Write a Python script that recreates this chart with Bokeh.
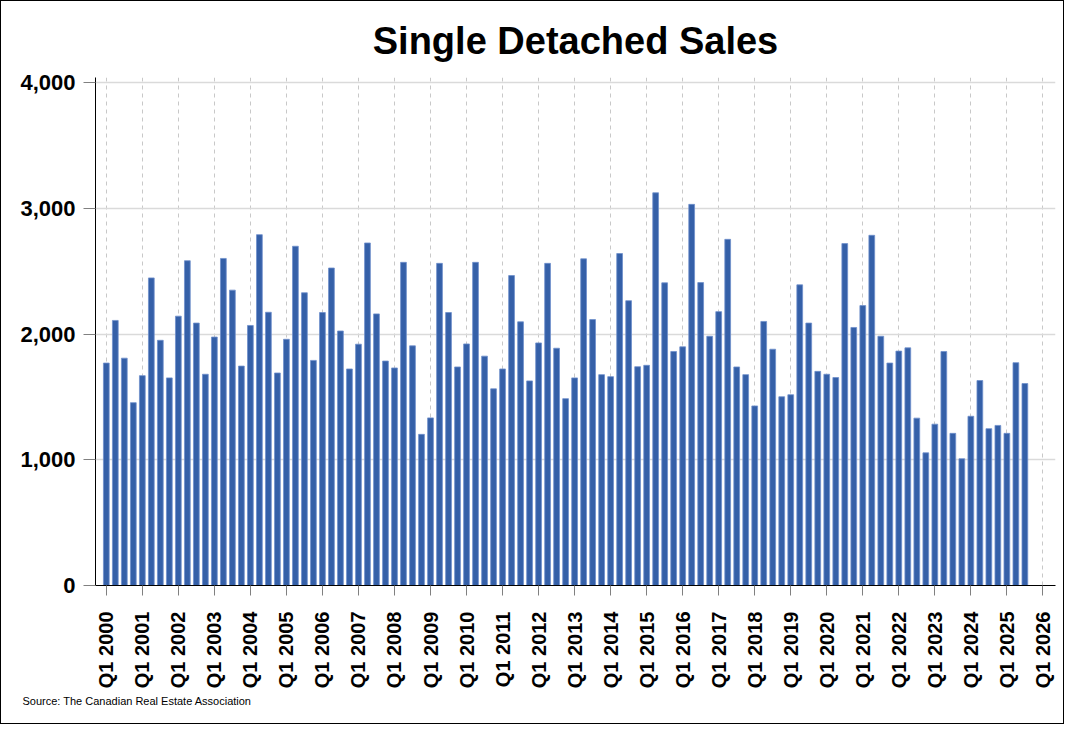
import math
from bokeh.plotting import figure
from bokeh.models import Range1d, FixedTicker, NumeralTickFormatter, Title
from bokeh.embed import file_html
from bokeh.resources import INLINE

years = list(range(2000, 2027))
tick_labels = [f"Q1 {y}" for y in years]

sales = [
    1769, 2108, 1808, 1454, 1669, 2446, 1950, 1651, 2142, 2583, 2087, 1680,
    1976, 2601, 2349, 1745, 2068, 2790, 2173, 1690, 1958, 2698, 2328, 1790,
    2171, 2525, 2024, 1722, 1919, 2724, 2160, 1785, 1730, 2570, 1906, 1202,
    1333, 2562, 2171, 1738, 1921, 2570, 1824, 1564, 1722, 2465, 2097, 1627,
    1929, 2562, 1887, 1486, 1651, 2598, 2115, 1677, 1661, 2640, 2265, 1740,
    1751, 3123, 2407, 1861, 1898, 3031, 2409, 1982, 2178, 2753, 1738, 1677,
    1428, 2100, 1879, 1501, 1517, 2391, 2087, 1703, 1680, 1654, 2719, 2052,
    2226, 2785, 1982, 1769, 1864, 1890, 1331, 1055, 1283, 1861, 1210, 1008,
    1346, 1630, 1247, 1273, 1210, 1772, 1606,
]
quarter_index = list(range(len(sales)))

FONT = "Liberation Sans"

p = figure(
    width=1064, height=724,
    output_backend="svg", toolbar_location=None,
    x_range=Range1d(-1.2, 105.4), y_range=Range1d(0, 4040),
    min_border_left=94, min_border_right=10, min_border_top=60, min_border_bottom=140,
)
p.styles = {"border": "1px solid black"}
p.background_fill_color = "white"
p.border_fill_color = "white"
p.outline_line_color = None

title = Title(text="Single Detached Sales", align="center", vertical_align="bottom",
              text_font=FONT, text_font_size="38px", text_font_style="bold",
              text_color="black", standoff=32)
p.add_layout(title, "above")

p.vbar(x=quarter_index, top=sales, width=0.64, bottom=0,
       fill_color="#3560a8", line_color="#6f8fcc", line_width=0.8)

# x axis
p.xaxis.ticker = FixedTicker(ticks=[4 * i for i in range(len(years))])
p.xaxis.major_label_overrides = {4 * i: lab for i, lab in enumerate(tick_labels)}
p.xaxis.major_label_orientation = math.pi / 2
p.xaxis.major_label_text_font = FONT
p.xaxis.major_label_text_font_size = "20px"
p.xaxis.major_label_text_font_style = "bold"
p.xaxis.major_label_text_color = "black"
p.xaxis.major_label_standoff = 16
p.xaxis.major_tick_out = 10
p.xaxis.major_tick_in = 0
p.xaxis.major_tick_line_color = "#808080"
p.xaxis.minor_tick_line_color = None
p.xaxis.axis_line_color = "black"

# y axis
p.yaxis.ticker = FixedTicker(ticks=[0, 1000, 2000, 3000, 4000])
p.yaxis.formatter = NumeralTickFormatter(format="0,0")
p.yaxis.major_label_text_font = FONT
p.yaxis.major_label_text_font_size = "22px"
p.yaxis.major_label_text_font_style = "bold"
p.yaxis.major_label_text_color = "black"
p.yaxis.major_label_standoff = 8
p.yaxis.major_tick_out = 12
p.yaxis.major_tick_in = 0
p.yaxis.major_tick_line_color = "#808080"
p.yaxis.minor_tick_line_color = None
p.yaxis.axis_line_color = "black"

# grids
p.xgrid.grid_line_color = "#c8c8c8"
p.xgrid.grid_line_dash = "4 4"
p.xgrid.grid_line_width = 1
p.ygrid.grid_line_color = "#dadada"
p.ygrid.grid_line_width = 1.5

src = Title(text="Source: The Canadian Real Estate Association", align="left",
            offset=-73, text_font=FONT, text_font_size="11px",
            text_font_style="normal", text_color="black", standoff=2)
p.add_layout(src, "below")

open("out.html", "w").write(file_html(p, INLINE))
